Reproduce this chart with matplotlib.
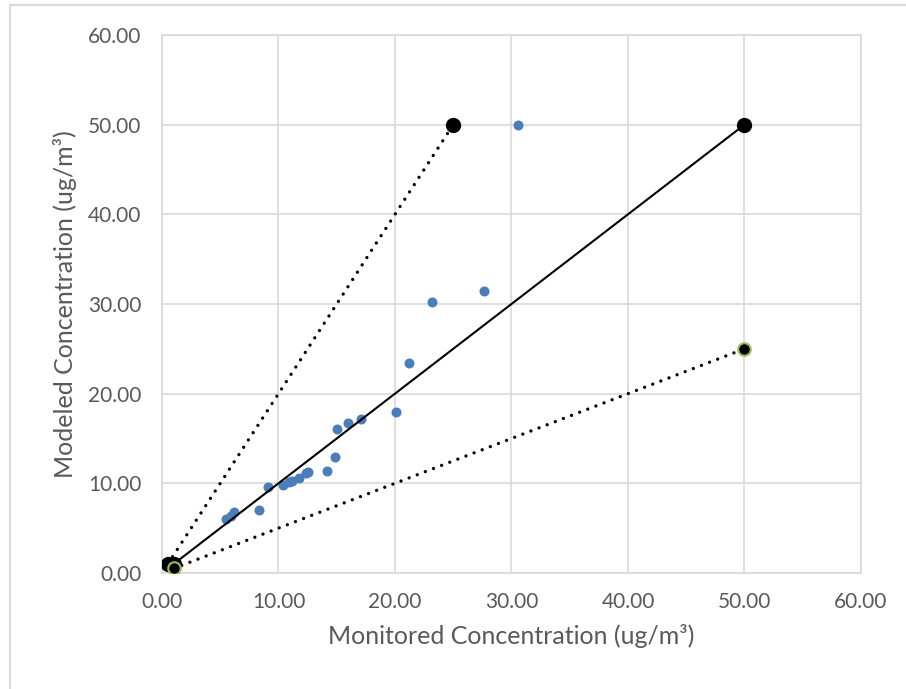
import matplotlib
matplotlib.use("Agg")
import matplotlib.pyplot as plt
from matplotlib.lines import Line2D

plt.rcParams['font.family'] = ['Lato', 'DejaVu Sans']

# monitored vs modeled concentration pairs
monitored = [5.5, 5.95, 6.15, 8.33, 9.08, 10.4, 10.9, 11.18, 11.75, 12.36, 12.56,
             14.2, 14.85, 15.0, 16.0, 17.1, 20.1, 21.2, 23.2, 27.6, 30.6]
modeled = [6.0, 6.4, 6.85, 7.0, 9.55, 9.8, 10.2, 10.3, 10.6, 11.1, 11.26,
           11.4, 12.97, 16.05, 16.75, 17.2, 17.9, 23.4, 30.2, 31.5, 50.0]

# reference lines: 1:1, factor of two above and below
one_x = [1, 50]
one_y = [1, 50]
upper_x = [0.5, 25]
upper_y = [1, 50]
lower_x = [1, 50]
lower_y = [0.5, 25]

ticks = [0, 10, 20, 30, 40, 50, 60]
gray = '#595959'
grid = '#D9D9D9'

fig = plt.figure(figsize=(9.06, 6.89), dpi=100)
ax = fig.add_axes([0.1788, 0.1684, 0.7715, 0.7808])

ax.scatter(monitored, modeled, s=52, color='#4A7EBB', zorder=3, linewidths=0)

ax.plot(one_x, one_y, color='black', lw=1.5, marker='o', ms=10, zorder=4)
ax.plot(upper_x, upper_y, color='black', lw=2.4, ls=(0, (0.01, 2.6)),
        dash_capstyle='round', marker='o', ms=10, zorder=4)
ax.plot(lower_x, lower_y, color='black', lw=2.4, ls=(0, (0.01, 2.6)),
        dash_capstyle='round', marker='o', ms=9, mec='#9BBB59', mew=1.5, zorder=4)

ax.set_xlim(0, 60)
ax.set_ylim(0, 60)
ax.set_xticks(ticks)
ax.set_yticks(ticks)
ax.set_xticklabels(['%.2f' % t for t in ticks])
ax.set_yticklabels(['%.2f' % t for t in ticks])
ax.tick_params(length=0, labelsize=15, colors=gray)
ax.tick_params(axis='x', pad=14)
ax.tick_params(axis='y', pad=15)
ax.grid(True, color=grid, lw=1.2)
ax.set_axisbelow(True)
for s in ax.spines.values():
    s.set_color(grid)
    s.set_linewidth(1.2)

ax.set_xlabel('Monitored Concentration (ug/m\u00b3)', fontsize=18, color=gray, labelpad=8)
ax.set_ylabel('Modeled Concentration (ug/m\u00b3)', fontsize=18, color=gray, labelpad=8)

# chart area border (left and top edges visible)
fig.add_artist(Line2D([0.011, 0.011], [0, 0.993], color=grid, lw=1.5))
fig.add_artist(Line2D([0.011, 1], [0.993, 0.993], color=grid, lw=1.5))

fig.savefig('out.png', dpi=100)
